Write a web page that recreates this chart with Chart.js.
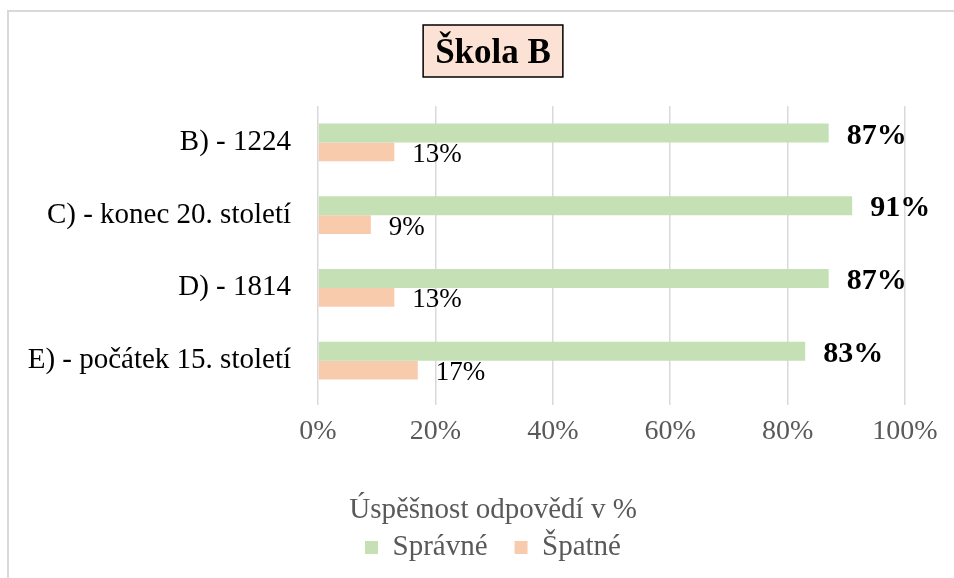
<!DOCTYPE html>
<html>
<head>
<meta charset="utf-8">
<script src="https://cdn.jsdelivr.net/npm/chart.js@4.4.1/dist/chart.umd.min.js"></script>
<style>
  html, body { margin: 0; padding: 0; background: #fff; overflow: hidden; }
  #frame { position: absolute; left: 7px; top: 10px; width: 1200px; height: 800px;
           border-left: 2px solid #d9d9d9; border-top: 2px solid #d9d9d9; }
  #wrap { position: absolute; left: 0; top: 0; width: 954px; height: 578px; }
</style>
</head>
<body>
<div id="frame"></div>
<div id="wrap"><canvas id="myChart" width="954" height="578"></canvas></div>
<script>
// chart data
const categories = ["B) - 1224", "C) - konec 20. století", "D) - 1814", "E) - počátek 15. století"];
const correct = [87, 91, 87, 83];
const wrong = [13, 9, 13, 17];
const tickLabels = ["0%", "20%", "40%", "60%", "80%", "100%"];
const chartTitle = "Škola B";
const axisTitle = "Úspěšnost odpovědí v %";

const FONT = "'Liberation Serif', 'Times New Roman', serif";
const TITLE_PAD = 33;
const TITLE_SIZE = 35;

// draws the peach box behind the chart title
const titleBox = {
  id: "titleBox",
  beforeDraw(chart) {
    const t = chart.titleBlock;
    if (!t) return;
    const ctx = chart.ctx;
    ctx.save();
    ctx.font = "bold " + TITLE_SIZE + "px " + FONT;
    const w = ctx.measureText(chartTitle).width + 24;
    const h = 52;
    const cx = (t.left + t.right) / 2;
    const cy = 51;
    ctx.fillStyle = "#fbe2d5";
    ctx.fillRect(cx - w / 2, cy - h / 2, w, h);
    ctx.strokeStyle = "#000";
    ctx.lineWidth = 1.5;
    ctx.strokeRect(cx - w / 2, cy - h / 2, w, h);
    ctx.restore();
  }
};

// value labels at the end of each bar
const barLabels = {
  id: "barLabels",
  afterDatasetsDraw(chart) {
    const ctx = chart.ctx;
    chart.data.datasets.forEach((ds, i) => {
      const meta = chart.getDatasetMeta(i);
      meta.data.forEach((bar, j) => {
        ctx.save();
        ctx.font = ds.labelFont;
        ctx.fillStyle = "#000";
        ctx.textBaseline = "middle";
        ctx.textAlign = "left";
        ctx.fillText(ds.data[j] + "%", bar.x + 18, bar.y + 3);
        ctx.restore();
      });
    });
  }
};

const ctx = document.getElementById("myChart").getContext("2d");
const chart = new Chart(ctx, {
  type: "bar",
  data: {
    labels: categories,
    datasets: [
      {
        label: "Správné",
        data: correct,
        backgroundColor: "#c5e0b4",
        labelFont: "bold 30px " + FONT
      },
      {
        label: "Špatné",
        data: wrong,
        backgroundColor: "#f8cbad",
        labelFont: "27px " + FONT
      }
    ]
  },
  options: {
    indexAxis: "y",
    responsive: false,
    animation: false,
    barPercentage: 1,
    categoryPercentage: 0.52,
    // negative right padding keeps title/legend centred like the original
    layout: { padding: { left: 6, right: -26, top: 0, bottom: 6 } },
    scales: {
      x: {
        min: 0,
        max: 100,
        border: { display: false },
        grid: { color: "#d9d9d9", lineWidth: 1.5, tickLength: 8 },
        ticks: {
          stepSize: 20,
          color: "#595959",
          padding: 10,
          font: { family: FONT, size: 28 },
          callback: (v) => tickLabels[Math.round(v / 20)]
        },
        afterFit(scale) {
          scale.paddingRight = 49;
          scale.height = 79;
        }
      },
      y: {
        border: { display: false },
        grid: { display: false, drawTicks: false },
        ticks: {
          color: "#000",
          padding: 27,
          font: { family: FONT, size: 29 }
        },
        afterFit(scale) {
          scale.width = 312;
        }
      }
    },
    plugins: {
      title: {
        display: true,
        text: chartTitle,
        color: "#000",
        font: { family: FONT, size: TITLE_SIZE, weight: "bold" },
        padding: { top: TITLE_PAD, bottom: 31 }
      },
      legend: {
        position: "bottom",
        title: {
          display: true,
          text: axisTitle,
          color: "#595959",
          font: { family: FONT, size: 29, lineHeight: 1 },
          padding: { top: 20, bottom: -19 }
        },
        labels: {
          boxWidth: 13,
          boxHeight: 13,
          color: "#595959",
          padding: 27,
          font: { family: FONT, size: 29 }
        }
      },
      tooltip: { enabled: false }
    }
  },
  plugins: [titleBox, barLabels]
});
</script>
</body>
</html>
